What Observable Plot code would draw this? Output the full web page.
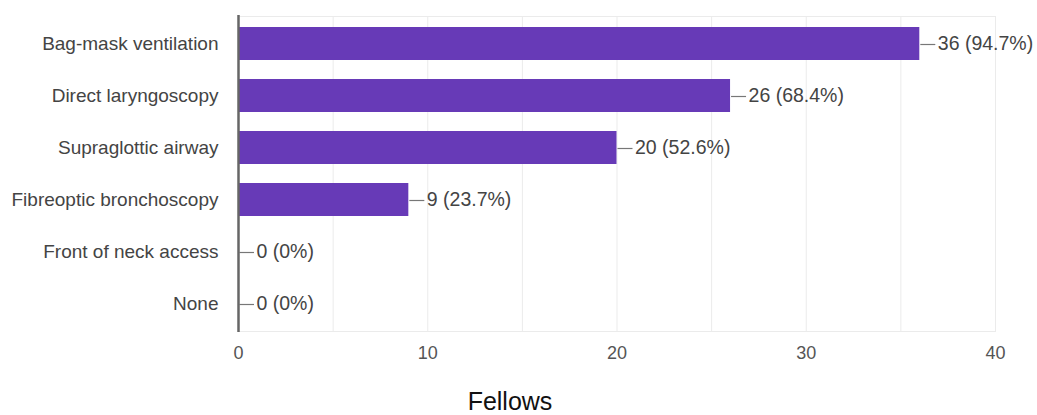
<!DOCTYPE html>
<html>
<head>
<meta charset="utf-8">
<script src="https://cdn.jsdelivr.net/npm/d3@7"></script>
<script src="https://cdn.jsdelivr.net/npm/@observablehq/plot@0.6"></script>
<style>
  html, body { margin: 0; padding: 0; background: #fff; }
  body { width: 1037px; height: 415px; overflow: hidden; position: relative; font-family: "Liberation Sans", Arial, sans-serif; }
  #xlabel { position: absolute; left: 0; width: 1020px; top: 386px; text-align: center; font-size: 25px; color: #111; line-height: 30px; }
</style>
</head>
<body>
<div id="chart"></div>
<div id="xlabel">Fellows</div>
<script>
const categories = ["Bag-mask ventilation", "Direct laryngoscopy", "Supraglottic airway", "Fibreoptic bronchoscopy", "Front of neck access", "None"];
const counts = [36, 26, 20, 9, 0, 0];
const percents = ["94.7%", "68.4%", "52.6%", "23.7%", "0%", "0%"];
const xTicks = [0, 10, 20, 30, 40];
const xGrid = [5, 10, 15, 20, 25, 30, 35, 40];

const data = categories.map((c, i) => ({cat: c, v: counts[i], label: `${counts[i]} (${percents[i]})`}));

const leaderLen = 16;
function leaders(index, scales, values, dimensions, context) {
  const g = d3.create("svg:g");
  for (const d of data) {
    const x0 = scales.x(d.v);
    const y0 = Math.round(scales.y(d.cat) + scales.y.bandwidth() / 2) + 0.5;
    g.append("line").attr("x1", x0 + 1).attr("x2", x0 + leaderLen).attr("y1", y0).attr("y2", y0)
      .attr("stroke", "#777").attr("stroke-width", 1.2);
  }
  return g.node();
}

const chart = Plot.plot({
  width: 1037,
  height: 380,
  marginLeft: 238,
  marginRight: 42,
  marginTop: 16,
  marginBottom: 49,
  style: { fontFamily: "Liberation Sans, Arial, sans-serif", background: "#fff" },
  x: { domain: [0, 40], ticks: xTicks, label: null },
  y: { domain: categories, paddingInner: 0.37, paddingOuter: 0.185, label: null },
  marks: [
    Plot.ruleX(xGrid, { stroke: "#ebebeb", strokeWidth: 1 }),
    Plot.frame({ stroke: "#ebebeb" }),
    Plot.barX(data, { x: "v", y: "cat", fill: "#673ab7" }),
    Plot.ruleX([0], { stroke: "#666", strokeWidth: 2.5, insetTop: -1, insetBottom: -1 }),
    Plot.dot([0], { x: d => d, r: 0, render: leaders }),
    Plot.text(data, { x: "v", y: "cat", text: "label", textAnchor: "start", dx: leaderLen + 2, fill: "#444", fontSize: 19.5 }),
    Plot.axisY({ tickSize: 0, tickPadding: 20, fontSize: 19, color: "#444", label: null }),
    Plot.axisX({ ticks: xTicks, tickSize: 0, tickPadding: 15, fontSize: 18, color: "#555", label: null })
  ]
});
document.getElementById("chart").appendChild(chart);
</script>
</body>
</html>
